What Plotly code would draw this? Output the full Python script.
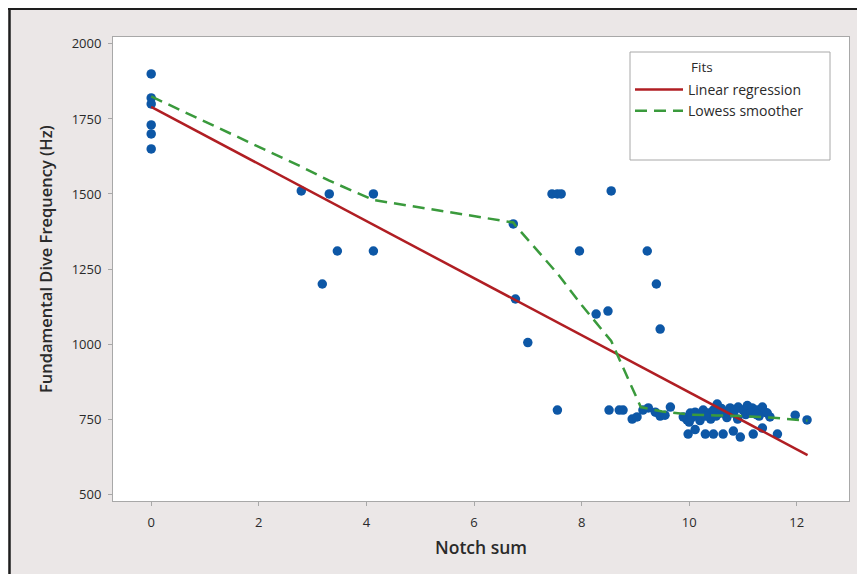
import plotly.graph_objects as go

# ---- data ----
notch_sum = [0, 0, 0, 0, 0, 0,
             2.79, 3.18, 3.31, 3.46, 4.13, 4.13,
             6.73, 6.77, 7.0, 7.45, 7.55, 7.62, 7.55, 7.96, 8.27, 8.49, 8.55, 8.51,
             9.22, 9.39, 9.46,
             8.7, 8.77, 8.94, 9.03, 9.14, 9.24, 9.37, 9.46, 9.55, 9.65, 9.89, 9.96,
             10.02, 10.11, 10.17, 10.26, 10.35, 10.45, 10.52, 10.58, 10.67, 10.76,
             10.82, 10.91, 11.0, 11.08, 11.17, 11.26, 11.36, 11.41, 11.5, 11.97, 12.19,
             10.0, 10.4, 10.9, 11.3,
             10.05, 10.2, 10.3, 10.5, 10.6, 10.7, 10.85, 11.05, 11.15, 11.25, 11.45,
             9.98, 10.11, 10.3, 10.45, 10.63, 10.82, 10.95, 11.19, 11.36, 11.64]
dive_freq = [1900, 1820, 1800, 1730, 1700, 1650,
             1510, 1200, 1500, 1310, 1500, 1310,
             1400, 1150, 1005, 1500, 1500, 1500, 780, 1310, 1100, 1110, 1510, 780,
             1310, 1200, 1050,
             780, 780, 750, 757, 780, 787, 773, 760, 763, 790, 757, 747,
             770, 773, 763, 780, 770, 780, 800, 770, 773, 787,
             770, 790, 780, 795, 787, 780, 790, 773, 757, 763, 747,
             740, 750, 750, 760,
             755, 745, 760, 760, 785, 755, 780, 765, 770, 765, 770,
             700, 715, 700, 700, 700, 710, 690, 700, 720, 700]

linreg_x = [0, 12.2]
linreg_y = [1790, 630]

lowess_x = [0, 2.8, 3.3, 4.13, 6.73, 6.77, 7.55, 8.0, 8.55, 9.1, 9.5, 10.0, 10.5, 11.0, 11.5, 12.2]
lowess_y = [1825, 1590, 1545, 1480, 1405, 1395, 1235, 1130, 1010, 790, 775, 765, 762, 760, 755, 745]

x_ticks = [0, 2, 4, 6, 8, 10, 12]
y_ticks = [500, 750, 1000, 1250, 1500, 1750, 2000]

FONT = "Open Sans"
TXT = "#2a2a2a"

fig = go.Figure()
fig.add_trace(go.Scatter(x=notch_sum, y=dive_freq, mode="markers",
                         marker=dict(color="#0d57a6", size=9.5, line=dict(width=0)),
                         showlegend=False))
fig.add_trace(go.Scatter(x=linreg_x, y=linreg_y, mode="lines",
                         line=dict(color="#b01e23", width=2.5),
                         name="Linear regression"))
fig.add_trace(go.Scatter(x=lowess_x, y=lowess_y, mode="lines",
                         line=dict(color="#3a9a3c", width=2.5, dash="12px,7px"),
                         name="Lowess smoother"))

# page is offset by the 8px default body margin
OX, OY = 8, 8
W, H = 857, 566
L, T = 113 - OX, 37 - OY
R = W - (849 - OX)
B = H - (501 - OY)
pw, ph = W - L - R, H - T - B

def px(page_x):
    return (page_x - OX - L) / pw

def py(page_y):
    return (H - B - (page_y - OY)) / ph

fig.update_layout(
    width=W, height=H, autosize=False,
    margin=dict(l=L, r=R, t=T, b=B),
    paper_bgcolor="#ebe7e7",
    plot_bgcolor="#ffffff",
    font=dict(family=FONT, color=TXT, size=13),
    showlegend=True,
    legend=dict(x=px(630), y=py(74), xanchor="left", yanchor="top",
                bgcolor="rgba(0,0,0,0)", borderwidth=0,
                font=dict(family=FONT, size=14, color=TXT),
                itemwidth=48, tracegroupgap=0),
    shapes=[
        dict(type="rect", xref="paper", yref="paper",
             x0=px(630), x1=px(830), y0=py(160), y1=py(52),
             line=dict(color="#a8a8a8", width=1), fillcolor="rgba(0,0,0,0)"),
        dict(type="line", xref="paper", yref="paper",
             x0=px(9.5), x1=px(9.5), y0=py(600), y1=py(8),
             line=dict(color="#1e1e1e", width=2.5)),
        dict(type="line", xref="paper", yref="paper",
             x0=px(8), x1=px(870), y0=py(9), y1=py(9),
             line=dict(color="#1e1e1e", width=2)),
    ],
    annotations=[
        dict(text="Fits", xref="paper", yref="paper", x=px(689), y=py(67),
             xanchor="left", yanchor="middle", showarrow=False,
             font=dict(family=FONT, size=13.5, color=TXT)),
        dict(text="Notch sum", xref="paper", yref="paper", x=px(481), y=py(547),
             xanchor="center", yanchor="middle", showarrow=False,
             font=dict(family=FONT, size=17.5, color=TXT, weight=600)),
        dict(text="Fundamental Dive Frequency (Hz)", xref="paper", yref="paper",
             x=px(45), y=py(259), xanchor="center", yanchor="middle", showarrow=False,
             textangle=-90, font=dict(family=FONT, size=16.5, color=TXT, weight=600)),
    ],
)

fig.update_xaxes(range=[-0.71, 12.97], tickvals=x_ticks, showgrid=False, zeroline=False,
                 showline=True, linecolor="#a8a8a8", linewidth=1, mirror=True,
                 ticks="outside", ticklen=4, tickcolor="#a8a8a8",
                 tickfont=dict(family=FONT, size=13, color=TXT),
                 ticklabelstandoff=5)
fig.update_yaxes(range=[477, 2023], tickvals=y_ticks, showgrid=False, zeroline=False,
                 showline=True, linecolor="#a8a8a8", linewidth=1, mirror=True,
                 ticks="outside", ticklen=4, tickcolor="#a8a8a8",
                 tickfont=dict(family=FONT, size=13, color=TXT),
                 ticklabelstandoff=4)

fig.write_html("out.html")
